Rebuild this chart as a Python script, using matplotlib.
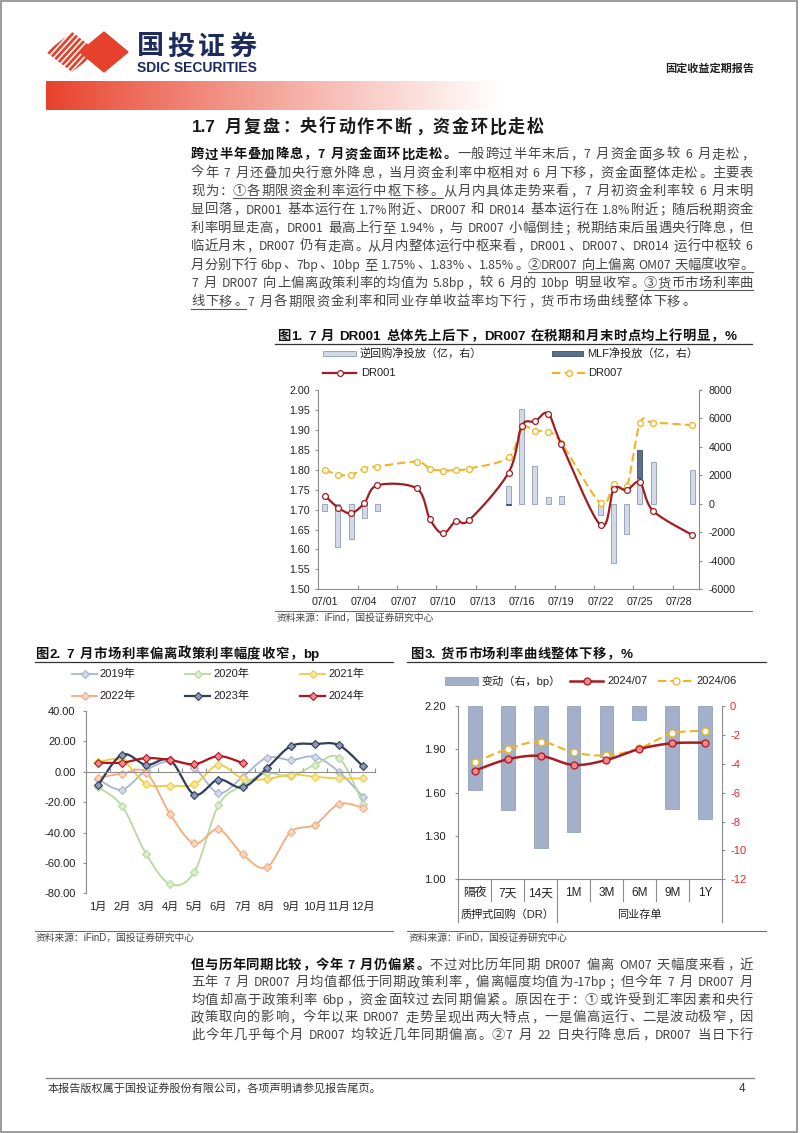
import re
import numpy as np
import matplotlib
matplotlib.use('Agg')
import matplotlib.pyplot as plt
from matplotlib.lines import Line2D
from matplotlib.patches import Rectangle, Polygon

# ---------------- chart 1 data: daily rates (%) and net injections (亿) ----------------
ch1_days = [1, 2, 3, 4, 5, 8, 9, 10, 11, 12, 15, 16, 17, 18, 19, 22, 23, 24, 25, 26, 29]
ch1_dr001 = [1.735, 1.705, 1.691, 1.716, 1.761, 1.753, 1.676, 1.640, 1.672, 1.674, 1.793,
             1.910, 1.921, 1.941, 1.865, 1.661, 1.751, 1.749, 1.768, 1.697, 1.636]
ch1_dr007 = [1.799, 1.788, 1.787, 1.803, 1.808, 1.820, 1.802, 1.798, 1.799, 1.803, 1.831,
             1.906, 1.898, 1.895, 1.868, 1.716, 1.765, 1.758, 1.916, 1.918, 1.912]
ch1_repo_days = [1, 2, 3, 4, 5, 15, 16, 17, 18, 19, 22, 23, 24, 25, 26, 29]
ch1_repo = [-500, -3000, -2500, -1000, -500, 1250, 6700, 2650, 450, 550, -750, -4150, -2100, 1800, 2950, 2400]
ch1_mlf_days = [15, 25]
ch1_mlf = [-100, 2000]
ch1_label_days = [1, 4, 7, 10, 13, 16, 19, 22, 25, 28]

# ---------------- chart 2 data: DR007 minus policy rate (bp) ----------------
months = ['1月', '2月', '3月', '4月', '5月', '6月', '7月', '8月', '9月', '10月', '11月', '12月']
y2019 = [-5, -11.7, 1, 7, 2.5, -14, -3.5, 9.2, 7.7, 9.9, 0, -16.5]
y2020 = [-10, -22.6, -54.2, -74, -65.8, -22, -9, -1, -3, 4.6, 9.2, -21]
y2021 = [6.5, 7.5, -8, -9.1, -8.2, 4.5, -4.4, -4.8, -1.8, -3.3, -4.4, -4.4]
y2022 = [-4, -1.2, -0.5, -28.1, -47.2, -37.9, -54.4, -62.9, -39.6, -35, -21.3, -23.7]
y2023 = [-8.8, 11.3, 4.5, 7.5, -15, -5.1, -10.3, 2.2, 16.8, 18.3, 17.5, 3.5]
y2024 = [6.0, 6.0, 9.0, 7.7, 5.0, 10.3, 5.8]

# ---------------- chart 3 data: money market curve ----------------
ch3_terms = ['隔夜', '7天', '14天', '1M', '3M', '6M', '9M', '1Y']
ch3_groups = ['质押式回购（DR）', '同业存单']
ch3_jul = [1.752, 1.831, 1.854, 1.792, 1.826, 1.902, 1.942, 1.946]
ch3_jun = [1.810, 1.902, 1.953, 1.879, 1.858, 1.907, 2.011, 2.027]
ch3_chg = [-5.8, -7.2, -9.8, -8.7, -3.5, -1.0, -7.1, -7.8]

W, H = 802, 1133
CJK = 'Noto Sans CJK SC'
LAT = ['Liberation Sans', CJK]
BODY_LAT = ['Liberation Sans Narrow', CJK]
plt.rcParams['font.family'] = LAT
plt.rcParams['axes.unicode_minus'] = False

fig = plt.figure(figsize=(W / 100, H / 100), dpi=100)
fig.patch.set_facecolor('white')
R = fig.canvas.get_renderer()


def fx(x):
    return x / W


def fy(y):
    return 1 - y / H


def rect(l, t, r, b):
    return [fx(l), fy(b), (r - l) / W, (b - t) / H]


def measure(s, size, weight='normal', family=None):
    t = fig.text(0, 0, s, fontsize=size, fontweight=weight, family=family or [CJK])
    w = t.get_window_extent(renderer=R).width
    t.remove()
    return w


def fig_line(x0, x1, y0, y1=None, **kw):
    y1 = y0 if y1 is None else y1
    fig.add_artist(Line2D([fx(x0), fx(x1)], [fy(y0), fy(y1)], transform=fig.transFigure, **kw))


def fig_marker(x, y, **kw):
    fig.add_artist(Line2D([fx(x)], [fy(y)], transform=fig.transFigure, **kw))


def fig_box(l, t, r, b, **kw):
    fig.add_artist(Rectangle((fx(l), fy(b)), (r - l) / W, (b - t) / H, transform=fig.transFigure, **kw))


def ftext(x, y, s, size=8, **kw):
    kw.setdefault('va', 'center')
    kw.setdefault('color', '#222222')
    fig.text(fx(x), fy(y), s, fontsize=size, **kw)


TOK = re.compile(r'[A-Za-z0-9.%/\-]+| |.')


def jline(y, segs, x0=191, x1=753, size=9.6, asize=8.8, afam=None, justify=True,
          color='#454545', bcolor='#111111', gap=0.7):
    afam = afam or BODY_LAT
    em = size * 100 / 72
    toks = []
    for text, st in segs:
        for tk in TOK.findall(text):
            if tk == ' ':
                w = em * 0.28
            elif ord(tk[0]) < 128:
                w = measure(tk, asize, 'bold' if 'b' in st else 'normal', afam) + 1.0
            else:
                w = em
            toks.append((tk, st, w))
    if justify and len(toks) > 1:
        gap = (x1 - x0 - sum(t[2] for t in toks)) / (len(toks) - 1)
    base = y + em * 0.36
    x = x0
    ul, cur = [], None
    for tk, st, w in toks:
        bold = 'b' in st
        kw = dict(fontweight='bold' if bold else 'normal', color=bcolor if bold else color, va='baseline')
        if tk != ' ':
            if ord(tk[0]) < 128:
                fig.text(fx(x + 0.5), fy(base), tk, fontsize=asize, ha='left', family=afam, **kw)
            elif tk in '，。、；：）':
                fig.text(fx(x + 0.08 * em), fy(base), tk, fontsize=size, ha='left', family=[CJK], **kw)
            elif tk == '（':
                fig.text(fx(x + w - 0.08 * em), fy(base), tk, fontsize=size, ha='right', family=[CJK], **kw)
            else:
                fig.text(fx(x + w / 2), fy(base), tk, fontsize=size, ha='center', family=[CJK], **kw)
        if 'u' in st:
            if cur is None:
                cur = [x, x + w]
            else:
                cur[1] = x + w
        elif cur is not None:
            ul.append(cur)
            cur = None
        x += w + gap
    if cur is not None:
        ul.append(cur)
    for a, b in ul:
        fig_line(a, b, base + 3, color='#555555', lw=0.8)


def smooth(ax, xs, ys, n=18):
    x0, x1 = ax.get_xlim()
    y0, y1 = ax.get_ylim()
    pos = ax.get_position()
    bw, bh = pos.width * W, pos.height * H
    P = np.column_stack([(np.asarray(xs, float) - x0) / (x1 - x0) * bw,
                         (np.asarray(ys, float) - y0) / (y1 - y0) * bh])
    P = np.vstack([P[0], P, P[-1]])
    t = np.linspace(0, 1, n, endpoint=False)[:, None]
    out = []
    for i in range(1, len(P) - 2):
        p0, p1, p2, p3 = P[i - 1], P[i], P[i + 1], P[i + 2]
        c1 = p1 + (p2 - p0) / 6
        c2 = p2 - (p3 - p1) / 6
        out.append((1 - t) ** 3 * p1 + 3 * (1 - t) ** 2 * t * c1 + 3 * (1 - t) * t ** 2 * c2 + t ** 3 * p2)
    out.append(P[-2][None])
    out = np.vstack(out)
    return x0 + out[:, 0] / bw * (x1 - x0), y0 + out[:, 1] / bh * (y1 - y0)


GRAY = '#8c8c8c'

# ---------------- page frame / header ----------------
fig.add_artist(Rectangle((fx(0.5), fy(1132.3)), 796.8 / W, 1131.8 / H, transform=fig.transFigure,
                         fill=False, ec='#8a8a8a', lw=1.2))

lax = fig.add_axes(rect(40, 28, 134, 78))
lax.set_xlim(40, 134)
lax.set_ylim(78, 28)
lax.axis('off')
clip = Polygon([(72, 32), (98, 52), (72, 72), (46, 52)], closed=True, transform=lax.transData)
for k in range(10):
    xs = 30 + k * 6.0
    ln, = lax.plot([xs, xs + 40], [74, 30], color='#E5412C', lw=2.0, solid_capstyle='butt')
    ln.set_clip_path(clip)
lax.add_patch(Polygon([(104, 32), (128, 52), (104, 72), (80, 52)], closed=True, color='#E5412C'))
for i, ch in enumerate('国投证券'):
    ftext(135 + 30.75 * (i + 0.5), 46.5, ch, size=19.5, fontweight='bold', color='#1D2A5C',
          family=[CJK], ha='center')
sw = measure('SDIC SECURITIES', 10, 'bold', ['Liberation Sans'])
ftext(137, 67.5, 'SDIC SECURITIES', size=10 * 120 / sw, fontweight='bold', color='#1D2A5C',
      family=['Liberation Sans'])
ftext(754, 68, '固定收益定期报告', size=8, fontweight='bold', ha='right', color='#222222', family=[CJK])

gax = fig.add_axes(rect(46, 81, 500, 110))
gax.axis('off')
g = np.linspace(0, 1, 300) ** 0.9
red = np.array([232, 64, 42]) / 255
img = red[None, :] * (1 - g[:, None]) + g[:, None]
gax.imshow(img[None, :, :], aspect='auto', extent=[0, 1, 0, 1])

# ---------------- text paragraphs ----------------
jline(126, [('1.7 月复盘：央行动作不断，资金环比走松', 'b')], x0=191, x1=544, size=12.3, asize=12.3,
      afam=['Liberation Sans'], bcolor='#1a1a1a')

P1 = [
    [('跨过半年叠加降息，7 月资金面环比走松。', 'b'), ('一般跨过半年末后，7 月资金面多较 6 月走松，', '')],
    [('今年 7 月还叠加央行意外降息，当月资金利率中枢相对 6 月下移，资金面整体走松。主要表', '')],
    [('现为：', ''), ('①各期限资金利率运行中枢下移。', 'u'), ('从月内具体走势来看，7 月初资金利率较 6 月末明', '')],
    [('显回落，DR001 基本运行在 1.7%附近、DR007 和 DR014 基本运行在 1.8%附近；随后税期资金', '')],
    [('利率明显走高，DR001 最高上行至 1.94%，与 DR007 小幅倒挂；税期结束后虽遇央行降息，但', '')],
    [('临近月末，DR007 仍有走高。从月内整体运行中枢来看，DR001、DR007、DR014 运行中枢较 6', '')],
    [('月分别下行 6bp、7bp、10bp 至 1.75%、1.83%、1.85%。', ''), ('②DR007 向上偏离 OM07 天幅度收窄。', 'u')],
    [('7 月 DR007 向上偏离政策利率的均值为 5.8bp，较 6 月的 10bp 明显收窄。', ''), ('③货币市场利率曲', 'u')],
    [('线下移。', 'u'), ('7 月各期限资金利率和同业存单收益率均下行，货币市场曲线整体下移。', '')],
]
for i, segs in enumerate(P1):
    jline(153.5 + 18.4 * i, segs, justify=(i < len(P1) - 1))

P2 = [
    [('但与历年同期比较，今年 7 月仍偏紧。', 'b'), ('不过对比历年同期 DR007 偏离 OM07 天幅度来看，近', '')],
    [('五年 7 月 DR007 月均值都低于同期政策利率，偏离幅度均值为-17bp；但今年 7 月 DR007 月', '')],
    [('均值却高于政策利率 6bp，资金面较过去同期偏紧。原因在于：①或许受到汇率因素和央行', '')],
    [('政策取向的影响，今年以来 DR007 走势呈现出两大特点，一是偏高运行、二是波动极窄，因', '')],
    [('此今年几乎每个月 DR007 均较近几年同期偏高。②7 月 22 日央行降息后，DR007 当日下行', '')],
]
for i, segs in enumerate(P2):
    jline(964 + 17.5 * i, segs)

# footer
fig_line(46, 754, 1078, color='#8a8a8a', lw=1.0)
ftext(48, 1089, '本报告版权属于国投证券股份有限公司，各项声明请参见报告尾页。', size=8, color='#333333', family=[CJK])
ftext(739, 1089, '4', size=8.5, color='#333333')

# ---------------- chart 1 ----------------
RED1, GOLD = '#A11D23', '#F0B323'
REPO_FC, REPO_EC = '#D3DAE6', '#8C9BB6'
MLF_FC, MLF_EC = '#5B708F', '#3D4E68'

jline(335, [('图1. 7 月 DR001 总体先上后下，DR007 在税期和月末时点均上行明显，%', 'b')], x0=277, x1=737,
      size=9.6, asize=9.6, afam=['Liberation Sans'], bcolor='#111111')
fig_line(275, 752, 343.5, color='#333333', lw=0.9)

fig_box(323, 350.5, 356, 356, fc=REPO_FC, ec=REPO_EC, lw=0.6)
ftext(360, 353, '逆回购净投放（亿，右）', size=8)
fig_box(552, 350.5, 583, 356, fc=MLF_FC, ec=MLF_EC, lw=0.6)
ftext(587, 353, 'MLF净投放（亿，右）', size=8)
fig_line(323, 356, 372.5, color=RED1, lw=1.6)
fig_marker(339.5, 372.5, marker='o', ms=4.2, mfc='white', mec=RED1, mew=0.9)
ftext(361, 372.5, 'DR001', size=8)
fig_line(552, 585, 372.5, color=GOLD, lw=1.5, ls=(0, (4, 2)))
fig_marker(568.5, 372.5, marker='o', ms=4.2, mfc='white', mec=GOLD, mew=0.9)
ftext(588, 372.5, 'DR007', size=8)

ax1 = fig.add_axes(rect(318.3, 390, 699, 589.3))
ax1b = ax1.twinx()
ax1.set_zorder(ax1b.get_zorder() + 1)
ax1.patch.set_visible(False)
ax1.set_xlim(0.5, 29.5)
ax1.set_ylim(1.5, 2.0)
ax1b.set_ylim(-6000, 8000)

ax1b.bar(ch1_repo_days, ch1_repo, width=0.38, color=REPO_FC, edgecolor=REPO_EC, lw=0.6)
repo_map = dict(zip(ch1_repo_days, ch1_repo))
mlf_bottom = [repo_map.get(d, 0) if (m > 0 and repo_map.get(d, 0) > 0) else 0
              for d, m in zip(ch1_mlf_days, ch1_mlf)]
ax1b.bar(ch1_mlf_days, ch1_mlf, bottom=mlf_bottom, width=0.38, color=MLF_FC, edgecolor=MLF_EC, lw=0.6)

sx, sy = smooth(ax1, ch1_days, ch1_dr007)
ax1.plot(sx, sy, color=GOLD, lw=1.5, ls=(0, (4, 2)))
ax1.plot(ch1_days, ch1_dr007, 'o', ms=4.2, mfc='white', mec=GOLD, mew=0.9)
sx, sy = smooth(ax1, ch1_days, ch1_dr001)
ax1.plot(sx, sy, color=RED1, lw=1.6)
ax1.plot(ch1_days, ch1_dr001, 'o', ms=4.2, mfc='white', mec=RED1, mew=0.9)

ax1.set_xticks(np.arange(3.5, 29, 3))
ax1.set_xticklabels([])
ax1.set_xticks(ch1_label_days, minor=True)
ax1.set_xticklabels(['07/%02d' % d for d in ch1_label_days], minor=True)
ax1.tick_params(axis='x', which='major', direction='in', length=3, color=GRAY)
ax1.tick_params(axis='x', which='minor', length=0, pad=5.5, labelsize=7.7, labelcolor='#222222')
ax1.set_yticks(np.arange(1.5, 2.001, 0.05))
ax1.set_yticklabels(['%.2f' % v for v in np.arange(1.5, 2.001, 0.05)])
ax1.tick_params(axis='y', direction='out', length=2, pad=4, color=GRAY, labelsize=7.7, labelcolor='#222222')
ax1b.set_yticks(range(-6000, 8001, 2000))
ax1b.tick_params(axis='y', direction='out', length=2, pad=5, color=GRAY, labelsize=7.7, labelcolor='#222222')
for s in ['top', 'right']:
    ax1.spines[s].set_visible(False)
for s in ['top', 'left', 'bottom']:
    ax1b.spines[s].set_visible(False)
for sp in [ax1.spines['left'], ax1.spines['bottom'], ax1b.spines['right']]:
    sp.set_color(GRAY)
    sp.set_linewidth(0.8)

fig_line(275, 752, 610.5, color='#666666', lw=0.7)
ftext(277, 617.5, '资料来源：iFind，国投证券研究中心', size=7, color='#444444', family=LAT)

# ---------------- chart 2 ----------------
styles2 = [
    ('2019年', y2019, '#A9B4CE', '#D2D9E8', 1.3),
    ('2020年', y2020, '#B8D8A1', '#DCEDD0', 1.3),
    ('2021年', y2021, '#F2CA40', '#FBE7A6', 1.3),
    ('2022年', y2022, '#F5AA7B', '#FCD8C2', 1.3),
    ('2023年', y2023, '#2F3E5A', '#8A9AB8', 1.6),
    ('2024年', y2024, '#B3141C', '#F1898C', 1.6),
]

jline(653, [('图2. 7 月市场利率偏离政策利率幅度收窄，bp', 'b')], x0=35, x1=320, size=9.6, asize=9.6,
      afam=['Liberation Sans'])
fig_line(35, 393, 662, color='#333333', lw=0.9)

leg_x = [(72, 97, 99), (185, 210, 213), (300, 325, 328)]
for k, (name, vals, lc, mf, lw) in enumerate(styles2):
    a, b, tx = leg_x[k % 3]
    yy = 674 if k < 3 else 696
    fig_line(a, b, yy, color=lc, lw=lw)
    fig_marker((a + b) / 2, yy, marker='D', ms=3.6, mfc=mf, mec=lc, mew=0.8)
    ftext(tx, yy, name, size=8)

ax2 = fig.add_axes(rect(86, 711, 375, 893.3))
ax2.set_xlim(-0.5, 11.5)
ax2.set_ylim(-80, 40)
for name, vals, lc, mf, lw in styles2:
    xs = np.arange(len(vals))
    sx, sy = smooth(ax2, xs, vals)
    ax2.plot(sx, sy, color=lc, lw=lw)
    ax2.plot(xs, vals, 'D', ms=3.6, mfc=mf, mec=lc, mew=0.8)
ax2.spines['bottom'].set_position(('data', 0))
ax2.set_xticks(np.arange(0.5, 11.6, 1))
ax2.set_xticklabels([])
ax2.tick_params(axis='x', direction='in', length=3, color=GRAY)
ax2.set_yticks(range(-80, 41, 20))
ax2.set_yticklabels(['%.2f' % v for v in range(-80, 41, 20)])
ax2.tick_params(axis='y', direction='out', length=2, pad=5.5, color=GRAY, labelsize=8, labelcolor='#222222')
for s in ['top', 'right']:
    ax2.spines[s].set_visible(False)
for s in ['left', 'bottom']:
    ax2.spines[s].set_color(GRAY)
    ax2.spines[s].set_linewidth(0.8)
for i, m in enumerate(months):
    ax2.text(i, -0.075, m, transform=ax2.get_xaxis_transform(), ha='center', va='center',
             fontsize=8, color='#222222')

fig_line(35, 393, 931, color='#666666', lw=0.7)
ftext(36, 938, '资料来源：iFinD，国投证券研究中心', size=7, color='#444444', family=LAT)

# ---------------- chart 3 ----------------
RED3, MK3 = '#A81C22', '#F3878B'
BAR3_FC, BAR3_EC = '#A4B0C9', '#8797B6'

jline(653, [('图3. 货币市场利率曲线整体下移，%', 'b')], x0=410, x1=633, size=9.6, asize=9.6,
      afam=['Liberation Sans'])
fig_line(407, 766, 662, color='#333333', lw=0.9)

fig_box(445, 677, 478, 685, fc=BAR3_FC, ec=BAR3_EC, lw=0.5)
ftext(481, 681, '变动（右，bp）', size=8)
fig_line(570, 603, 681, color=RED3, lw=1.8)
fig_marker(586.5, 681, marker='o', ms=5, mfc=MK3, mec=RED3, mew=0.9)
ftext(607, 681, '2024/07', size=8)
fig_line(658, 693, 681, color=GOLD, lw=1.5, ls=(0, (4, 2)))
fig_marker(675.5, 681, marker='o', ms=5, mfc='white', mec=GOLD, mew=0.9)
ftext(696, 681, '2024/06', size=8)

ax3 = fig.add_axes(rect(458.3, 706, 721.7, 879.3))
ax3b = ax3.twinx()
ax3.set_zorder(ax3b.get_zorder() + 1)
ax3.patch.set_visible(False)
ax3.set_xlim(-0.5, 7.5)
ax3.set_ylim(1.0, 2.2)
ax3b.set_ylim(-12, 0)
xs3 = np.arange(len(ch3_terms))
ax3b.bar(xs3, ch3_chg, width=0.42, color=BAR3_FC, edgecolor=BAR3_EC, lw=0.5)
sx, sy = smooth(ax3, xs3, ch3_jun)
ax3.plot(sx, sy, color=GOLD, lw=1.5, ls=(0, (4, 2)))
ax3.plot(xs3, ch3_jun, 'o', ms=5, mfc='white', mec=GOLD, mew=0.9)
sx, sy = smooth(ax3, xs3, ch3_jul)
ax3.plot(sx, sy, color=RED3, lw=1.8)
ax3.plot(xs3, ch3_jul, 'o', ms=5, mfc=MK3, mec=RED3, mew=0.9)

ax3.set_xticks([])
ax3.set_yticks([1.0, 1.3, 1.6, 1.9, 2.2])
ax3.set_yticklabels(['%.2f' % v for v in [1.0, 1.3, 1.6, 1.9, 2.2]])
ax3.tick_params(axis='y', direction='out', length=2, pad=7, color=GRAY, labelsize=8, labelcolor='#222222')
ax3b.set_yticks(range(-12, 1, 2))
ax3b.tick_params(axis='y', direction='out', length=2, pad=4, color=GRAY, labelsize=8, labelcolor='#E3262C')
ax3.spines['top'].set_visible(False)
ax3.spines['right'].set_visible(False)
for s in ['top', 'left', 'bottom']:
    ax3b.spines[s].set_visible(False)
for sp in [ax3.spines['left'], ax3.spines['bottom'], ax3b.spines['right']]:
    sp.set_color(GRAY)
    sp.set_linewidth(0.8)

xt = ax3.get_xaxis_transform()
for i, t in enumerate(ch3_terms):
    ax3.text(i, -0.081, t, transform=xt, ha='center', va='center', fontsize=8.5, color='#222222')
for b in np.arange(-0.5, 7.6, 1):
    long_sep = b in (-0.5, 2.5, 7.5)
    ax3.plot([b, b], [0, -0.245 if long_sep else -0.124], transform=xt, color=GRAY, lw=0.8, clip_on=False)
ax3.text(1, -0.206, ch3_groups[0], transform=xt, ha='center', va='center', fontsize=8, color='#222222')
ax3.text(5, -0.206, ch3_groups[1], transform=xt, ha='center', va='center', fontsize=8, color='#222222')

fig_line(407, 766, 931, color='#666666', lw=0.7)
ftext(409, 938, '资料来源：iFinD，国投证券研究中心', size=7, color='#444444', family=LAT)

fig.savefig('out.png', dpi=100, facecolor='white')
